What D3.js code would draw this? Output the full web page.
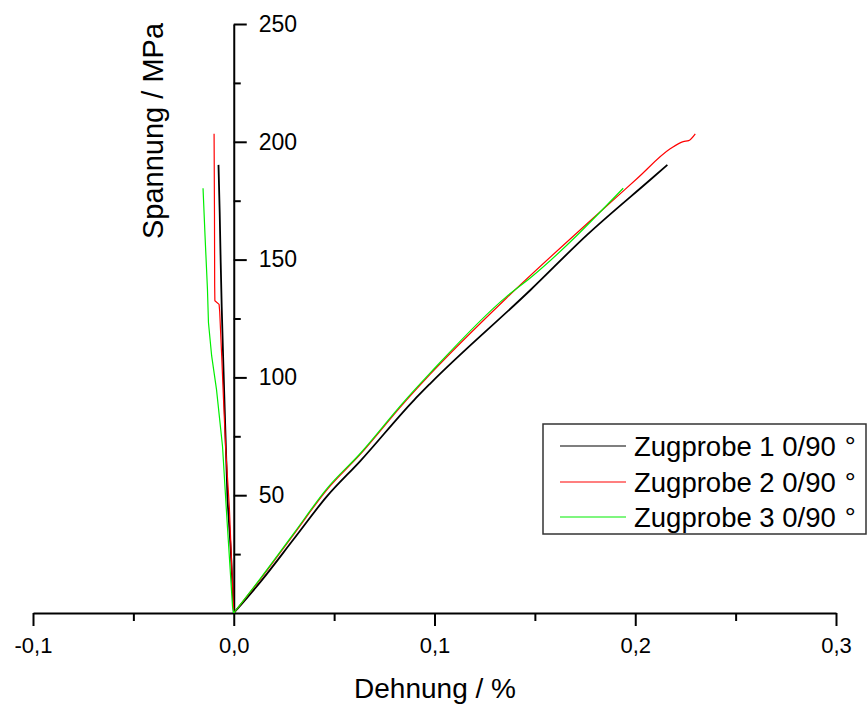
<!DOCTYPE html>
<html>
<head>
<meta charset="utf-8">
<script src="https://cdn.jsdelivr.net/npm/d3@7"></script>
<style>
  html, body { margin: 0; padding: 0; background: #fff; }
  svg text { font-family: "Liberation Sans", Arial, Helvetica, sans-serif; fill: #000; }
</style>
</head>
<body>
<svg id="chart" width="867" height="706"></svg>
<script>
// ---------- data ----------
const seriesNames = ["Zugprobe 1 0/90°", "Zugprobe 2 0/90°", "Zugprobe 3 0/90°"];
const seriesColors = ["#000000", "#ff0000", "#00ee00"];

// longitudinal branch [strain %, stress MPa]
const probe1Long = [[0,0],[0.0133,13.2],[0.03,31.5],[0.0464,49.5],[0.063,64.5],[0.0897,90.3],[0.098,97.5],[0.1478,137.1],[0.176,160.5],[0.2075,183.9],[0.216,190.2]];
const probe2Long = [[0,0],[0.0133,14.4],[0.0299,33.4],[0.0464,52.3],[0.063,67.3],[0.0846,89],[0.098,101.5],[0.136,133.8],[0.1776,166.5],[0.2008,184.3],[0.2174,197],[0.2239,200.1],[0.2266,200.5],[0.2299,203.4]];
const probe3Long = [[0,0],[0.0133,14.7],[0.0299,33.8],[0.0464,52.8],[0.063,67.7],[0.0846,89.5],[0.098,102],[0.136,134.4],[0.1478,142.3],[0.194,180.3]];

// transverse branch [strain %, stress MPa]
const probe1Trans = [[0,0],[-0.0015,27],[-0.0031,48],[-0.0043,80.7],[-0.0053,109],[-0.006,130],[-0.0065,148.8],[-0.007,170],[-0.0076,190.2]];
const probe2Trans = [[0,0],[-0.001,20],[-0.0022,45],[-0.004,69.4],[-0.0051,90.6],[-0.006,109],[-0.007,128],[-0.0073,131],[-0.0094,132.5],[-0.0095,138.8],[-0.0096,170],[-0.0098,203.4]];
const probe3Trans = [[0,0],[-0.0006,2.7],[-0.0034,40],[-0.0056,70.8],[-0.0086,94.9],[-0.011,109.1],[-0.0126,123.3],[-0.0131,137.4],[-0.0143,160],[-0.0153,180.3]];

const xMajorTicks = [-0.1, 0, 0.1, 0.2, 0.3];
const xMinorTicks = [-0.05, 0.05, 0.15, 0.25];
const yMajorTicks = [50, 100, 150, 200, 250];
const yMinorTicks = [25, 75, 125, 175, 225];
const xTitle = "Dehnung / %";
const yTitle = "Spannung / MPa";

// ---------- chart ----------
const svg = d3.select("#chart");
const x = d3.scaleLinear().domain([-0.1, 0.3]).range([33, 836]);
const y = d3.scaleLinear().domain([0, 250]).range([613, 24]);

const fmt = d => d3.format(".1f")(d).replace(".", ",").replace("−", "-");

// x axis
const xAxis = svg.append("g").attr("transform", `translate(0,${y(0)})`)
  .call(d3.axisBottom(x).tickValues(xMajorTicks).tickSize(13).tickSizeOuter(0).tickPadding(11).tickFormat(fmt));
xAxis.select(".domain").attr("stroke", "#000").attr("stroke-width", 2);
xAxis.selectAll(".tick line").attr("stroke", "#000").attr("stroke-width", 2);
xAxis.selectAll("text").attr("font-size", 22).style("font-family", '"Liberation Sans", Arial, sans-serif');
const xMinor = svg.append("g").attr("transform", `translate(0,${y(0)})`)
  .call(d3.axisBottom(x).tickValues(xMinorTicks).tickSize(8).tickSizeOuter(0).tickFormat(""));
xMinor.select(".domain").remove();
xMinor.selectAll(".tick line").attr("stroke", "#000").attr("stroke-width", 2);

// y axis
const yAxis = svg.append("g").attr("transform", `translate(${x(0)},0)`)
  .call(d3.axisRight(y).tickValues(yMajorTicks).tickSize(13).tickSizeOuter(0).tickPadding(12).tickFormat(d3.format("d")));
yAxis.select(".domain").attr("stroke", "#000").attr("stroke-width", 2);
yAxis.selectAll(".tick line").attr("stroke", "#000").attr("stroke-width", 2);
yAxis.selectAll("text").attr("font-size", 23).style("font-family", '"Liberation Sans", Arial, sans-serif');
const yMinor = svg.append("g").attr("transform", `translate(${x(0)},0)`)
  .call(d3.axisRight(y).tickValues(yMinorTicks).tickSize(7).tickSizeOuter(0).tickFormat(""));
yMinor.select(".domain").remove();
yMinor.selectAll(".tick line").attr("stroke", "#000").attr("stroke-width", 2);

// titles
svg.append("text").attr("x", 435).attr("y", 698).attr("text-anchor", "middle")
  .attr("font-size", 28).text(xTitle);
svg.append("text").attr("transform", "translate(163,131) rotate(-90)").attr("text-anchor", "middle")
  .attr("font-size", 29).text(yTitle);

// curves
const smoothLine = d3.line().curve(d3.curveMonotoneX).x(d => x(d[0])).y(d => y(d[1]));
const line = d3.line().x(d => x(d[0])).y(d => y(d[1]));
const longData = [probe1Long, probe2Long, probe3Long];
const transData = [probe1Trans, probe2Trans, probe3Trans];
const curves = svg.append("g");
[0, 1, 2].forEach(i => {
  [[longData[i], smoothLine], [transData[i], line]].forEach(([data, gen]) => {
    curves.append("path").datum(data)
      .attr("d", gen)
      .attr("fill", "none")
      .attr("stroke", seriesColors[i])
      .attr("stroke-width", i === 0 ? 1.8 : 1.2)
      .attr("stroke-linejoin", "round");
  });
});

// legend
const legend = svg.append("g");
legend.append("rect").attr("x", 543).attr("y", 424).attr("width", 323).attr("height", 110)
  .attr("fill", "#fff").attr("stroke", "#333").attr("stroke-width", 1.5);
const rowY = [446, 482, 517];
seriesNames.forEach((name, i) => {
  legend.append("line").attr("x1", 560).attr("x2", 626).attr("y1", rowY[i]).attr("y2", rowY[i])
    .attr("stroke", seriesColors[i]).attr("stroke-width", 1.2);
  const t = legend.append("text").attr("x", 634).attr("y", rowY[i] + 10).attr("font-size", 27.5);
  t.append("tspan").text(name.slice(0, -1));
  t.append("tspan").attr("dx", 9).text(name.slice(-1));
});
</script>
</body>
</html>
